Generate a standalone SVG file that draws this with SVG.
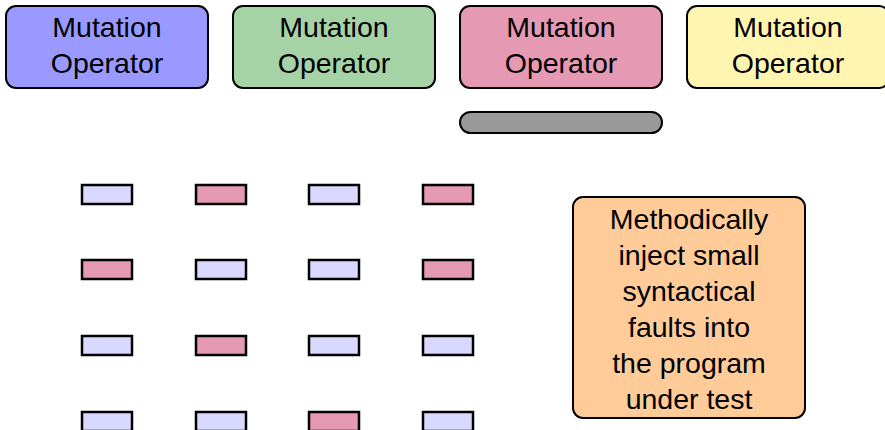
<svg xmlns="http://www.w3.org/2000/svg" width="885" height="430" viewBox="0 0 885 430">
<style>
.op{stroke:#000;stroke-width:2}
.t{font-family:"Liberation Sans",Arial,sans-serif;font-size:28.5px;text-anchor:middle;fill:#000}
.c{stroke:#000;stroke-width:2.5}
.b{fill:#d9d9ff}
.p{fill:#e699b3}
</style>
<rect width="885" height="430" fill="#fff"/>
<g id="op1"><rect class="op" x="6" y="6" width="202" height="82" rx="10" fill="#9999ff"/><text class="t" x="107" y="36.5">Mutation</text><text class="t" x="107" y="73">Operator</text></g>
<g id="op2"><rect class="op" x="233" y="6" width="202" height="82" rx="10" fill="#a6d3a6"/><text class="t" x="334" y="36.5">Mutation</text><text class="t" x="334" y="73">Operator</text></g>
<g id="op3"><rect class="op" x="460" y="6" width="202" height="82" rx="10" fill="#e699b3"/><text class="t" x="561" y="36.5">Mutation</text><text class="t" x="561" y="73">Operator</text></g>
<g id="op4"><rect class="op" x="687" y="6" width="202" height="82" rx="10" fill="#fff5b0"/><text class="t" x="788" y="36.5">Mutation</text><text class="t" x="788" y="73">Operator</text></g>
<g id="bar"><rect class="op" x="460" y="112" width="202" height="21" rx="10.5" fill="#999999"/></g>
<g id="grid">
<rect class="c b" x="82" y="185" width="50" height="19"/>
<rect class="c p" x="196" y="185" width="50" height="19"/>
<rect class="c b" x="309" y="185" width="50" height="19"/>
<rect class="c p" x="423" y="185" width="50" height="19"/>
<rect class="c p" x="82" y="260" width="50" height="19"/>
<rect class="c b" x="196" y="260" width="50" height="19"/>
<rect class="c b" x="309" y="260" width="50" height="19"/>
<rect class="c p" x="423" y="260" width="50" height="19"/>
<rect class="c b" x="82" y="336" width="50" height="19"/>
<rect class="c p" x="196" y="336" width="50" height="19"/>
<rect class="c b" x="309" y="336" width="50" height="19"/>
<rect class="c b" x="423" y="336" width="50" height="19"/>
<rect class="c b" x="82" y="412" width="50" height="19"/>
<rect class="c b" x="196" y="412" width="50" height="19"/>
<rect class="c p" x="309" y="412" width="50" height="19"/>
<rect class="c b" x="423" y="412" width="50" height="19"/>
</g>
<g id="note"><rect class="op" x="573" y="197" width="232" height="221" rx="10" fill="#ffcc99"/>
<text class="t"><tspan x="689" y="228.5">Methodically</tspan><tspan x="689" y="264.5">inject small</tspan><tspan x="689" y="300.5">syntactical</tspan><tspan x="689" y="336.5">faults into</tspan><tspan x="689" y="372.5">the program</tspan><tspan x="689" y="408.5">under test</tspan></text></g>
</svg>
